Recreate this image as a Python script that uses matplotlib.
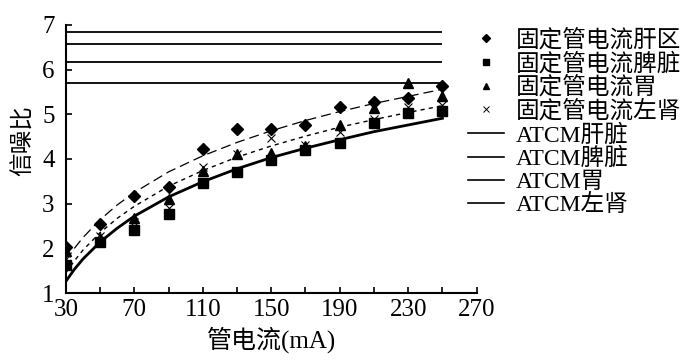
import numpy as np
from matplotlib import pyplot as plt
from matplotlib.lines import Line2D

plt.rcParams['font.family'] = ['Liberation Serif', 'Noto Sans CJK SC']
plt.rcParams['axes.unicode_minus'] = False

# tube current (mA) of the fixed-current scans
current = [30, 50, 70, 90, 110, 130, 150, 170, 190, 210, 230, 250]

liver = [2.04, 2.55, 3.18, 3.38, 4.22, 4.67, 4.67, 4.76, 5.16, 5.28, 5.37, 5.64]
spleen = [1.62, 2.15, 2.41, 2.76, 3.46, 3.70, 3.98, 4.20, 4.35, 4.80, 5.03, 5.08]
stomach = [1.93, 2.23, 2.67, 3.10, 3.72, 4.11, 4.13, 4.28, 4.75, 5.14, 5.70, 5.41]
kidney = [1.90, 2.28, 2.60, 2.90, 3.81, 4.10, 4.47, 4.32, 4.61, 4.90, 5.17, 5.20]

# ATCM SNR (constant lines)
atcm_liver = 6.85
atcm_spleen = 6.57
atcm_stomach = 6.17
atcm_kidney = 5.70

# trend curves
curve_x = [30, 35, 40, 50, 60, 70, 90, 110, 130, 150, 170, 190, 210, 230, 250]
curve_long = [1.72, 2.00, 2.24, 2.64, 2.97, 3.25, 3.71, 4.07, 4.37, 4.63, 4.86, 5.06, 5.24, 5.40, 5.56]
curve_short = [1.45, 1.72, 1.96, 2.35, 2.67, 2.94, 3.39, 3.74, 4.04, 4.29, 4.51, 4.71, 4.88, 5.04, 5.19]
curve_solid = [1.26, 1.53, 1.76, 2.14, 2.45, 2.72, 3.15, 3.49, 3.78, 4.03, 4.24, 4.43, 4.61, 4.76, 4.91]

fig = plt.figure(figsize=(7, 3.6), dpi=100)
ax = fig.add_axes([0.094, 0.186, 0.587, 0.745])

ax.plot(curve_x, curve_long, color='black', lw=0.9, linestyle=(0, (8, 4)))
ax.plot(curve_x, curve_short, color='black', lw=1.0, linestyle=(0, (3, 3)))
ax.plot(curve_x, curve_solid, color='black', lw=2.0)

for v in [atcm_liver, atcm_spleen, atcm_stomach, atcm_kidney]:
    ax.hlines(v, current[0], current[-1], color='black', lw=1.3)

ax.plot(current, liver, 'D', color='black', ms=6, ls='none')
ax.plot(current, spleen, 's', color='black', ms=7, ls='none')
ax.plot(current, stomach, '^', color='black', ms=7, ls='none')
ax.plot(current, kidney, 'x', color='black', ms=6, mew=0.8, ls='none')

ax.set_xlim(30, 270)
ax.set_ylim(1, 7)
ax.set_xticks(np.arange(30, 271, 20))
ax.set_xticklabels([str(t) if (t - 30) % 40 == 0 else '' for t in range(30, 271, 20)])
ax.set_yticks(range(1, 8))
ax.tick_params(direction='in', length=4, width=1.2, labelsize=18)
ax.tick_params(axis='y', pad=8)
ax.tick_params(axis='x', pad=4)
for s in ['top', 'right']:
    ax.spines[s].set_visible(False)
for s in ['left', 'bottom']:
    ax.spines[s].set_linewidth(1.5)

ax.set_xlabel('管电流(mA)', fontsize=18, labelpad=4)
ax.set_ylabel('信噪比', fontsize=17)
ax.yaxis.set_label_coords(-0.075, 0.57)

handles = [
    Line2D([], [], marker='D', color='black', ls='none', ms=4),
    Line2D([], [], marker='s', color='black', ls='none', ms=4.5),
    Line2D([], [], marker='^', color='black', ls='none', ms=4.5),
    Line2D([], [], marker='x', color='black', ls='none', ms=4, mew=0.7),
    Line2D([], [], color='black', lw=1.2),
    Line2D([], [], color='black', lw=1.2),
    Line2D([], [], color='black', lw=1.2),
    Line2D([], [], color='black', lw=1.2),
]
labels = ['固定管电流肝区', '固定管电流脾脏', '固定管电流胃', '固定管电流左肾',
          'ATCM肝脏', 'ATCM脾脏', 'ATCM胃', 'ATCM左肾']
fig.legend(handles, labels, loc='upper left', bbox_to_anchor=(0.669, 0.92),
           frameon=False, fontsize=17, labelspacing=0.05, handlelength=1.5,
           handletextpad=0.5, borderpad=0, borderaxespad=0)

plt.savefig('out.png')
